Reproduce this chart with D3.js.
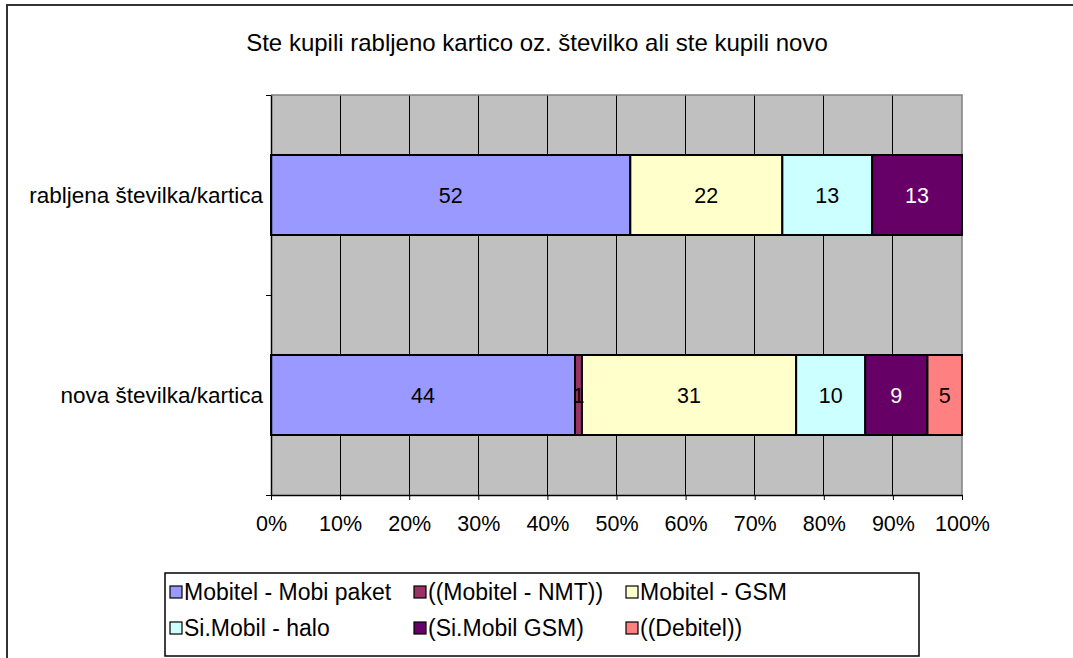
<!DOCTYPE html>
<html>
<head>
<meta charset="utf-8">
<script src="https://cdn.jsdelivr.net/npm/d3@7"></script>
<style>
  html, body { margin: 0; padding: 0; background: #fff; }
  svg { display: block; font-family: "Liberation Sans", Arial, sans-serif; }
</style>
</head>
<body>
<svg id="chart" width="1073" height="658"></svg>
<script>
const title = "Ste kupili rabljeno kartico oz. številko ali ste kupili novo";
const categories = ["rabljena številka/kartica", "nova številka/kartica"];
const seriesNames = ["Mobitel - Mobi paket", "((Mobitel - NMT))", "Mobitel - GSM", "Si.Mobil - halo", "(Si.Mobil GSM)", "((Debitel))"];
const seriesColors = ["#9999FF", "#993366", "#FFFFCC", "#CCFFFF", "#660066", "#FF8080"];
const labelColors = ["#000", "#000", "#000", "#000", "#fff", "#000"];
const mobiPaket = [52, 44];
const mobitelNMT = [0, 1];
const mobitelGSM = [22, 31];
const siMobilHalo = [13, 10];
const siMobilGSM = [13, 9];
const debitel = [0, 5];
const tickValues = [0, 10, 20, 30, 40, 50, 60, 70, 80, 90, 100];

const seriesValues = [mobiPaket, mobitelNMT, mobitelGSM, siMobilHalo, siMobilGSM, debitel];
const rows = categories.map((c, i) => {
  const r = { cat: c };
  seriesNames.forEach((s, j) => r[s] = seriesValues[j][i]);
  return r;
});

const svg = d3.select("#chart");
const L = 271, R = 962, T = 95, B = 495;

// outer frame (top and left visible)
svg.append("line").attr("x1", 6).attr("x2", 1073).attr("y1", 5).attr("y2", 5).attr("stroke", "#333").attr("stroke-width", 2);
svg.append("line").attr("x1", 7).attr("x2", 7).attr("y1", 4).attr("y2", 658).attr("stroke", "#333").attr("stroke-width", 2);

svg.append("text").attr("x", 537).attr("y", 51).attr("text-anchor", "middle")
  .attr("font-size", 24).attr("fill", "#000").text(title);

const x = d3.scaleLinear().domain([0, 100]).range([L, R]);
const y = d3.scaleBand().domain(categories).range([T, B]).paddingInner(0.6).paddingOuter(0.3);

// plot background
svg.append("rect").attr("x", L).attr("y", T).attr("width", R - L).attr("height", B - T)
  .attr("fill", "#C0C0C0");

// gridlines
svg.append("g").selectAll("line").data(tickValues.slice(1, -1)).join("line")
  .attr("x1", d => x(d)).attr("x2", d => x(d)).attr("y1", T).attr("y2", B)
  .attr("stroke", "#000").attr("stroke-width", 1).attr("shape-rendering", "crispEdges");

// plot border top/right gray
svg.append("path").attr("d", `M${L},${T}H${R}V${B}`).attr("fill", "none")
  .attr("stroke", "#808080").attr("stroke-width", 1.5);

const stack = d3.stack().keys(seriesNames);
const stacked = stack(rows);

const g = svg.append("g");
stacked.forEach((layer, si) => {
  g.append("g").selectAll("rect").data(layer).join("rect")
    .attr("x", d => x(d[0])).attr("y", d => y(d.data.cat))
    .attr("width", d => x(d[1]) - x(d[0])).attr("height", y.bandwidth())
    .attr("fill", seriesColors[si])
    .attr("stroke", d => (d[1] - d[0]) > 0 ? "#000" : "none").attr("stroke-width", 2);
});
stacked.forEach((layer, si) => {
  g.append("g").selectAll("text").data(layer.filter(d => d[1] - d[0] > 0)).join("text")
    .attr("x", d => x((d[0] + d[1]) / 2)).attr("y", d => y(d.data.cat) + y.bandwidth() / 2)
    .attr("dy", "0.36em").attr("text-anchor", "middle").attr("font-size", 21.5)
    .attr("fill", labelColors[si]).text(d => d[1] - d[0]);
});

// x axis
const xAxis = svg.append("g").attr("transform", `translate(0,${B})`)
  .call(d3.axisBottom(x).tickValues(tickValues).tickFormat(d => d + "%").tickSize(5).tickSizeOuter(0));
xAxis.select(".domain").attr("stroke", "#000").attr("stroke-width", 1.5);
xAxis.selectAll(".tick line").attr("stroke", "#000");
xAxis.selectAll(".tick text").attr("font-size", 21.5).attr("font-family", "Liberation Sans, Arial, sans-serif")
  .attr("fill", "#000").attr("y", 21).attr("dy", "0.71em");

// y axis (category boundaries)
const yb = d3.scaleLinear().domain([0, categories.length]).range([T, B]);
const yAxis = svg.append("g").attr("transform", `translate(${L},0)`)
  .call(d3.axisLeft(yb).tickValues(d3.range(categories.length + 1)).tickFormat("").tickSize(5).tickSizeOuter(0));
yAxis.select(".domain").attr("stroke", "#000").attr("stroke-width", 1.5);
yAxis.selectAll(".tick line").attr("stroke", "#000");

svg.append("g").selectAll("text").data(categories).join("text")
  .attr("x", 263).attr("y", d => y(d) + y.bandwidth() / 2).attr("dy", "0.36em")
  .attr("text-anchor", "end").attr("font-size", 22.5).attr("fill", "#000").text(d => d);

// legend
const lg = svg.append("g");
lg.append("rect").attr("x", 165).attr("y", 573).attr("width", 754).attr("height", 83)
  .attr("fill", "#fff").attr("stroke", "#000").attr("stroke-width", 1.5);
const colX = [170, 414, 626];
const rowY = [592, 628];
const items = lg.selectAll("g.item").data(seriesNames).join("g").attr("class", "item")
  .attr("transform", (d, i) => `translate(${colX[i % 3]},${rowY[Math.floor(i / 3)]})`);
items.append("rect").attr("x", 0).attr("y", -6).attr("width", 12).attr("height", 12)
  .attr("fill", (d, i) => seriesColors[i]).attr("stroke", "#000").attr("stroke-width", 1.2);
items.append("text").attr("x", 14).attr("y", 0).attr("dy", "0.36em")
  .attr("font-size", 23).attr("fill", "#000").text(d => d);
</script>
</body>
</html>
